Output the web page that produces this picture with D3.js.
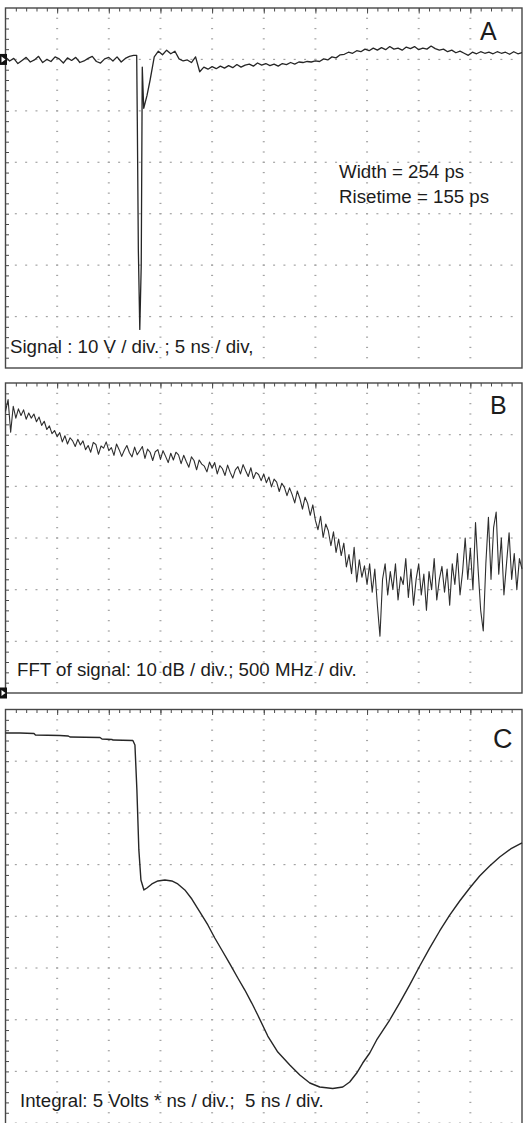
<!DOCTYPE html>
<html>
<head>
<meta charset="utf-8">
<script src="https://cdn.jsdelivr.net/npm/d3@7"></script>
<style>
  html, body { margin: 0; padding: 0; background: #fff; }
  svg { display: block; }
  .lbl { font-family: "Liberation Sans", Arial, Helvetica, sans-serif; fill: #1c1c1c; white-space: pre; }
</style>
</head>
<body>
<svg id="chart" width="524" height="1123"></svg>
<script>
// ---------- Panel A: signal, 10 V/div, 5 ns/div ----------
const stepA = 0.4; // ns between regular samples
// 0 .. 12.4 ns, regular samples (V)
const signalLead = [0.5, -0.3, 0.2, -0.8, -0.2, 0.4, -0.5, -0.1, 0.6, -0.6, 0.0, -0.4, 0.5, 0.1, -0.7, 0.3,
  -0.2, 0.4, -0.6, -0.3, 0.2, 0.6, -0.4, -0.7, 0.1, 0.4, -0.3, 0.5, -0.5, 0.2, 0.6, 0.8];
// the fast pulse, irregular samples
const pulseTime = [12.7, 12.76, 12.86, 13.0, 13.14, 13.24, 13.38, 13.7, 14.0, 14.4, 14.8];
const pulseVolt = [0.8, -12, -37, -52.5, -40, -1.5, -9.5, -7, -4, 0.5, 1.6];
// 15.2 .. 50 ns, regular samples (V)
const signalTail = [0.9, 1.8, 1.1, 1.6, 0.1, -0.3, -0.1, -0.6, 0.5, -2.4,
  -1.5, -1.9, -1.4, -1.8, -1.3, -1.7, -1.2, -1.6, -1.0, -1.5,
  -1.1, -0.9, -1.3, -0.7, -1.1, -0.8, -1.2, -0.9, -1.3, -0.8,
  -1.0, -0.6, -0.9, -0.5, -0.6, -0.4, -0.5, -0.3, -0.4, 0.1,
  -0.1, 0.5, 0.3, 0.9, 1.0, 1.4, 1.2, 1.7, 1.5, 2.0,
  1.7, 2.2, 1.8, 2.3, 1.9, 2.5, 2.0, 2.2, 1.8, 2.4,
  2.1, 2.5, 1.9, 2.2, 2.0, 2.6, 2.1, 1.8, 2.0, 1.5,
  1.8, 1.3, 1.6, 1.2, 0.8, 1.4, 1.1, 1.5, 1.2, 1.4,
  1.1, 1.5, 1.2, 1.4, 1.0, 1.5, 1.1, 1.3];
const tailStart = 15.2;

// ---------- Panel B: FFT, 10 dB/div, 500 MHz/div ----------
const fftStepMHz = 25;
const fftDb = [
  -5.5, -3.2, -9.5, -4.5, -6.8, -5, -6.3, -5.2, -7, -5.8,
  -6.8, -6, -7.5, -6.6, -8.2, -7.4, -9, -8.3, -9.8, -9.2,
  -10.4, -9.6, -11.4, -10.2, -11.8, -10.6, -11.2, -12.3, -10.9, -12,
  -11.2, -12.9, -12.1, -13.4, -11.5, -11.9, -13.8, -12.2, -12.6, -11.4,
  -13.1, -12.5, -14.0, -11.8, -12.9, -14.2, -13.0, -12.1, -13.5, -14.3,
  -12.4, -13.9, -13.1, -12.3, -14.6, -12.8, -13.4, -15.0, -13.3, -12.9,
  -14.8, -13.1, -14.2, -15.4, -13.6, -14.9, -13.4, -13.9, -15.6, -14.0,
  -15.2, -16.3, -14.3, -15.0, -16.8, -14.9, -15.7, -16.1, -17.2, -15.3,
  -16.5, -15.4, -17.6, -16.0, -16.6, -17.9, -15.9, -17.3, -18.4, -16.8,
  -16.2, -17.6, -15.8, -17.0, -18.1, -16.4, -18.5, -17.3, -17.7, -18.9,
  -17.6, -19.3, -18.2, -20.1, -18.6, -19.2, -21.0, -19.4, -20.2, -21.8,
  -20.3, -21.6, -23.2, -20.9, -22.4, -24.4, -22.1, -23.3, -25.6, -23.6,
  -26.6, -28.4, -25.8, -29.9, -27.3, -28.6, -31.5, -28.8, -32.8, -30.2,
  -33.4, -31.0, -35.6, -33.2, -36.9, -31.8, -38.5, -34.2, -37.6, -35.4,
  -39, -35, -40.5, -36, -43, -49, -38, -35, -41, -36.5,
  -40, -35, -42, -37.5, -39, -34, -41.5, -36, -43, -38,
  -35, -41, -37, -44, -36.5, -40, -34, -42, -38, -35.5,
  -40.5, -36, -43, -35, -39, -33, -41, -36.5, -30, -38,
  -32, -40, -27, -36, -44, -48, -35, -26, -38, -28,
  -25, -37, -30, -41, -35, -29, -38, -33, -40, -34,
  -36];

// ---------- Panel C: integral, 5 V*ns/div, 5 ns/div ----------
const integralTime = [0, 1.4, 2.76, 2.9, 5.27, 6.05, 6.24, 9.15, 9.34, 10.3, 10.4, 12.33, 12.53, 12.72, 12.91,
  13.11, 13.4, 13.69, 14.17, 14.75, 15.43, 16.1, 16.68, 17.36, 18.04, 18.81, 19.59, 20.26, 20.94, 21.72,
  22.49, 23.17, 23.84, 24.42, 25.39, 26.36, 27.52, 28.49, 29.46, 30.42, 31.68, 32.65, 33.32, 34.0, 34.58,
  35.26, 35.93, 37.19, 38.16, 39.13, 40.1, 41.06, 42.03, 43.0, 43.97, 44.94, 45.9, 46.87, 47.84, 48.9, 50];
const integralValue = [0.23, 0.23, 0.18, 0.03, -0.01, -0.06, -0.16, -0.21, -0.35, -0.4, -0.45, -0.5, -0.93, -5.28, -11.08,
  -13.99, -14.95, -14.76, -14.37, -14.08, -13.99, -14.08, -14.37, -14.95, -15.83, -17.08, -18.34, -19.6, -20.76, -22.11,
  -23.47, -24.63, -25.89, -27.05, -29.08, -30.63, -31.88, -32.85, -33.62, -34.01, -34.15, -34.01, -33.53, -32.66, -31.69,
  -30.72, -29.46, -27.53, -25.88, -24.14, -22.31, -20.57, -18.92, -17.38, -16.02, -14.76, -13.6, -12.64, -11.77, -10.99, -10.41];

// ---------- assemble series ----------
const seriesA = [
  ...signalLead.map((v, i) => ({ t: i * stepA, v })),
  ...pulseTime.map((t, i) => ({ t, v: pulseVolt[i] })),
  ...signalTail.map((v, i) => ({ t: tailStart + i * stepA, v }))
];
const seriesB = fftDb.map((v, i) => ({ t: i * fftStepMHz, v }));
const seriesC = integralTime.map((t, i) => ({ t, v: integralValue[i] }));

// ---------- layout ----------
const svg = d3.select('#chart');
const frameLeft = 5.5, frameRight = 522;
const noteSize = 18.7;

const panels = [
  {
    x: d3.scaleLinear().domain([0, 50]).range([frameLeft, frameRight]),
    y: d3.scaleLinear().domain([-60, 10]).range([368, 8]),
    xDiv: 5, yDiv: 10, frameBottom: 368, lastRow: false,
    data: seriesA, stroke: '#262626', width: 1.3,
    letter: { text: 'A', x: 480, y: 40, size: 25 },
    notes: [
      { text: 'Width = 254 ps', x: 339, y: 178 },
      { text: 'Risetime = 155 ps', x: 339, y: 203 },
      { text: 'Signal : 10 V / div. ; 5 ns / div,', x: 10, y: 353 }
    ],
    marker: 0
  },
  {
    x: d3.scaleLinear().domain([0, 5000]).range([frameLeft, frameRight]),
    y: d3.scaleLinear().domain([-60, 0]).range([693, 383]),
    xDiv: 500, yDiv: 10, frameBottom: 693, lastRow: false,
    data: seriesB, stroke: '#2e2e2e', width: 1.1,
    letter: { text: 'B', x: 490, y: 414, size: 25 },
    notes: [
      { text: 'FFT of signal: 10 dB / div.; 500 MHz / div.', x: 17, y: 676 }
    ],
    marker: -60
  },
  {
    x: d3.scaleLinear().domain([0, 50]).range([frameLeft, frameRight]),
    y: d3.scaleLinear().domain([-37.5, 2.5]).range([1123.1, 709.5]),
    xDiv: 5, yDiv: 5, frameBottom: 1140, lastRow: true,
    data: seriesC, stroke: '#262626', width: 1.4,
    letter: { text: 'C', x: 493, y: 748, size: 27 },
    notes: [
      { text: 'Integral: 5 Volts * ns / div.;  5 ns / div.', x: 20, y: 1107 }
    ],
    marker: null
  }
];

panels.forEach(p => {
  const g = svg.append('g');
  const [xa, xb] = p.x.domain();
  const [ya, yb] = p.y.domain();          // ya = bottom value, yb = top value
  const nCols = Math.round((xb - xa) / p.xDiv);
  const nRows = Math.round((yb - ya) / p.yDiv);

  const xMinor = d3.range(1, nCols * 5).map(i => xa + i * p.xDiv / 5);
  const xMajor = d3.range(1, nCols).map(i => xa + i * p.xDiv);
  const yMinor = d3.range(1, nRows * 5 + (p.lastRow ? 3 : 0)).map(j => yb - j * p.yDiv / 5);
  const yMajor = d3.range(1, nRows + (p.lastRow ? 1 : 0)).map(k => yb - k * p.yDiv);

  // dotted graticule: dots along each major column and row
  const dots = g.append('g').attr('fill', '#a4a4a4');
  xMajor.forEach(xv => {
    yMinor.forEach(yv => {
      dots.append('rect').attr('x', p.x(xv) - 1).attr('y', p.y(yv) - 0.6).attr('width', 2).attr('height', 1.2);
    });
  });
  yMajor.forEach(yv => {
    xMinor.forEach(xv => {
      dots.append('rect').attr('x', p.x(xv) - 1).attr('y', p.y(yv) - 0.6).attr('width', 2).attr('height', 1.2);
    });
  });

  // tick marks along the top and left edges of the frame
  const top = p.y(yb);
  const styleTicks = sel => {
    sel.select('.domain').remove();
    sel.selectAll('.tick line').attr('stroke', '#4a4a4a').attr('stroke-width', 1);
  };
  g.append('g').attr('transform', `translate(0,${top})`)
    .call(d3.axisTop(p.x).tickValues(xMinor).tickSize(-3.5).tickFormat(''))
    .call(styleTicks);
  g.append('g').attr('transform', `translate(0,${top})`)
    .call(d3.axisTop(p.x).tickValues(xMajor).tickSize(-5.5).tickFormat(''))
    .call(styleTicks);
  g.append('g').attr('transform', `translate(${p.x(xa)},0)`)
    .call(d3.axisLeft(p.y).tickValues(yMinor.filter(v => p.y(v) < p.frameBottom - 1)).tickSize(-3.5).tickFormat(''))
    .call(styleTicks);

  // frame
  g.append('rect')
    .attr('x', p.x(xa)).attr('y', top)
    .attr('width', p.x(xb) - p.x(xa)).attr('height', p.frameBottom - top)
    .attr('fill', 'none').attr('stroke', '#474747').attr('stroke-width', 1.4);

  // trace
  const line = d3.line().x(d => p.x(d.t)).y(d => p.y(d.v));
  g.append('path')
    .datum(p.data)
    .attr('d', line)
    .attr('fill', 'none')
    .attr('stroke', p.stroke)
    .attr('stroke-width', p.width)
    .attr('stroke-linejoin', 'round');

  // channel reference marker on the left edge
  if (p.marker !== null) {
    const my = p.y(p.marker);
    g.append('rect').attr('x', 0).attr('y', my - 5.5).attr('width', 7).attr('height', 11).attr('fill', '#111');
    g.append('path')
      .attr('d', `M1.5,${my - 3}L5.5,${my}L1.5,${my + 3}Z`)
      .attr('fill', '#fff');
  }

  // panel letter and annotations
  g.append('text').attr('class', 'lbl')
    .attr('x', p.letter.x).attr('y', p.letter.y)
    .attr('font-size', p.letter.size)
    .text(p.letter.text);
  p.notes.forEach(n => {
    g.append('text').attr('class', 'lbl')
      .attr('x', n.x).attr('y', n.y)
      .attr('font-size', noteSize)
      .text(n.text);
  });
});
</script>
</body>
</html>
